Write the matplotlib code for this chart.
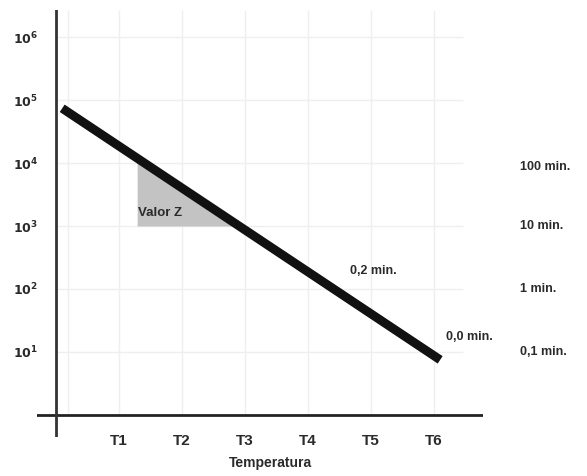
import matplotlib

matplotlib.use("Agg")
import matplotlib.pyplot as plt
import numpy as np

matplotlib.rcParams["font.family"] = ["Liberation Sans", "DejaVu Sans"]

# Data
temp_labels = ["T1", "T2", "T3", "T4", "T5", "T6"]
temp_pos = [1, 2, 3, 4, 5, 6]
decades = [1e1, 1e2, 1e3, 1e4, 1e5, 1e6]
decade_labels = [r"$\mathbf{10^{1}}$", r"$\mathbf{10^{2}}$", r"$\mathbf{10^{3}}$",
                 r"$\mathbf{10^{4}}$", r"$\mathbf{10^{5}}$", r"$\mathbf{10^{6}}$"]
line_x = [0.1, 6.1]
line_y = [7.4e4, 7.5]
z_start = 1.29
z_floor = 1e3
time_labels = ["100 min.", "10 min.", "1 min.", "0,1 min."]
time_y = [8.5e3, 1.0e3, 1.0e2, 1.0e1]
notes = [("0,2 min.", 4.67, 190), ("0,0 min.", 6.2, 17.5)]

TEXT = "#2a2a2a"
GRID = "#efefef"

fig = plt.figure(figsize=(5.87, 4.76), dpi=100)
ax = fig.add_axes([37 / 587, 39 / 476, 446 / 587, 427 / 476])
ax.set_yscale("log")
ax.set_xlim(-0.30, 6.78)
ax.set_ylim(10 ** -0.35, 10 ** 6.43)
for side in ["top", "right", "left", "bottom"]:
    ax.spines[side].set_visible(False)

# light grid
ax.hlines(decades, 0, 6.46, color=GRID, lw=1, zorder=0)
ax.vlines(temp_pos + [0.2], 1, 10 ** 6.43, color=GRID, lw=1, zorder=0)

# axes drawn as crossing lines
ax.axhline(1, color="#222222", lw=2, zorder=3)
ax.axvline(0, color="#333333", lw=2, zorder=3)

# Z-value triangle under the line
lx = np.array(line_x)
ly = np.log10(line_y)
slope = (ly[1] - ly[0]) / (lx[1] - lx[0])
x_end = lx[0] + (np.log10(z_floor) - ly[0]) / slope
xs = np.linspace(z_start, x_end, 50)
ys = 10 ** (ly[0] + slope * (xs - lx[0]))
ax.fill_between(xs, z_floor, ys, color="#c3c3c3", lw=0, zorder=1)
ax.text(z_start + 0.02, 10 ** 3.2, "Valor Z", fontsize=9.5, fontweight="bold",
        color=TEXT, va="center", ha="left", zorder=2)

ax.plot(line_x, line_y, color="#111111", lw=6.4, solid_capstyle="butt", zorder=4)

for label, x, y in notes:
    ax.text(x, y, label, fontsize=9, fontweight="bold", color=TEXT, ha="left", va="center")
for label, y in zip(time_labels, time_y):
    ax.text(7.37, y, label, fontsize=9, fontweight="bold", color=TEXT, ha="left",
            va="center", clip_on=False)

ax.set_yticks(decades)
ax.set_yticklabels(decade_labels)
ax.yaxis.set_minor_locator(matplotlib.ticker.NullLocator())
ax.set_xticks(temp_pos)
ax.set_xticklabels(temp_labels)
ax.tick_params(axis="both", length=0, colors=TEXT)
ax.tick_params(axis="y", pad=-1, labelsize=9)
ax.tick_params(axis="x", pad=-2, labelsize=11)
for t in ax.get_xticklabels():
    t.set_fontweight("bold")
ax.set_xlabel("Temperatura", fontsize=10, fontweight="bold", color=TEXT)
ax.xaxis.set_label_coords((270 - 37) / 446, -0.045)

fig.savefig("out.png", dpi=100)
